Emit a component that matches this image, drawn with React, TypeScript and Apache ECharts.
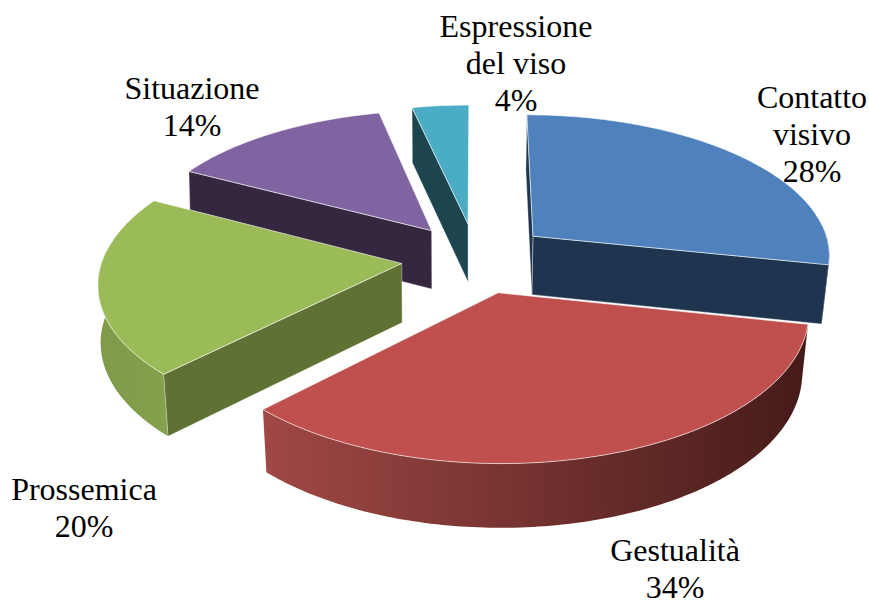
import React, { useEffect, useRef } from "react";
import * as echarts from "echarts";

const categories = ["Contatto visivo", "Gestualità", "Prossemica", "Situazione", "Espressione del viso"];
const values = [28.3, 34.1, 20.3, 13.8, 3.5];
const labelLines = ["Contatto\nvisivo", "Gestualità", "Prossemica", "Situazione", "Espressione\ndel viso"];

const W = 869, H = 601;
const CX = 476, CY = 258, RX = 299, RY = 141, K = 0.121, DEPTH = 59, EXPLODE = 0.25, BOTTOM_SHRINK = 0.98;
const STEP = Math.PI / 180;
const FRONT_FROM = (85 / 180) * Math.PI, FRONT_TO = (275 / 180) * Math.PI;

const topColors = ["#4f81bd", "#c0504d", "#9bbb59", "#8064a2", "#4bacc6"];
const wallColors = ["#1f344e", "#4b1d1b", "#5f7135", "#35273f", "#1d4550"];
const outerLeft = ["#1f344e", "#a04845", "#7f9a48", "#35273f", "#1d4550"];
const outerRight = ["#1f344e", "#451b19", "#86a14c", "#35273f", "#1d4550"];
const order = [1, 4, 2, 0, 0]; // stacking rank, back to front
const showStartWall = [true, false, true, true, true];
const showEndWall = [true, false, false, false, false];
const labelAnchors = [[812, 134], [675, 568], [84, 507], [192, 106], [516, 63]];
const RIM = "rgba(255,255,255,0.6)";

function project(X: number, Y: number, bottom: boolean): number[] {
  const s = 1 / (1 - K * Y);
  let x = CX + RX * X * s;
  let y = CY + RY * Y * s;
  if (bottom) {
    const shrink = x < CX ? 0.995 - 0.012 * Math.max(Y, 0) : BOTTOM_SHRINK;
    x = CX + (x - CX) * shrink;
    y += DEPTH * (0.5 + 0.5 * s);
  }
  return [x, y];
}

function renderSlice(params: any) {
  const i = params.dataIndex;
  const total = values.reduce((a, b) => a + b, 0);
  const before = values.slice(0, i).reduce((a, b) => a + b, 0);
  const a0 = (before / total) * Math.PI * 2;
  const a1 = ((before + values[i]) / total) * Math.PI * 2;
  const mid = (a0 + a1) / 2;
  const ox = Math.sin(mid) * EXPLODE;
  const oy = -Math.cos(mid) * EXPLODE;

  const arc = (from: number, to: number, bottom: boolean) => {
    const pts: number[][] = [];
    const n = Math.max(2, Math.ceil((to - from) / STEP));
    for (let j = 0; j <= n; j++) {
      const a = from + ((to - from) * j) / n;
      pts.push(project(ox + Math.sin(a), oy - Math.cos(a), bottom));
    }
    return pts;
  };
  const topArc = arc(a0, a1, false);
  const botArc = arc(a0, a1, true);
  const apexT = project(ox, oy, false);
  const apexB = project(ox, oy, true);
  const base = order[i] * 10 + (i === 4 ? 5 : 0);

  const wall = (a: number[], b: number[], c: number[], d: number[], z: number) => ({
    type: "polygon",
    z2: base + z,
    shape: { points: [a, b, c, d] },
    style: { fill: wallColors[i], stroke: RIM, lineWidth: 0.6 },
  });

  const children: any[] = [];
  if (showEndWall[i]) children.push(wall(apexT, topArc[topArc.length - 1], botArc[botArc.length - 1], apexB, 2));
  const from = Math.max(a0, FRONT_FROM);
  const to = Math.min(a1, FRONT_TO);
  if (to > from) {
    const ot = arc(from, to, false);
    const ob = arc(from, to, true);
    children.push({
      type: "polygon",
      z2: base + 1,
      shape: { points: ot.concat(ob.slice().reverse()) },
      style: {
        fill: new echarts.graphic.LinearGradient(0, 0, 1, 0, [
          { offset: 0, color: outerLeft[i] },
          { offset: 1, color: outerRight[i] },
        ]),
      },
    });
  }
  if (showStartWall[i]) children.push(wall(apexT, topArc[0], botArc[0], apexB, 2));
  children.push({
    type: "polygon",
    z2: base + 3,
    shape: { points: [apexT].concat(topArc) },
    style: { fill: topColors[i], stroke: RIM, lineWidth: 1 },
  });
  children.push({
    type: "text",
    z2: 100,
    style: {
      text: labelLines[i] + "\n" + Math.round(values[i]) + "%",
      x: labelAnchors[i][0],
      y: labelAnchors[i][1],
      align: "center",
      verticalAlign: "middle",
      fill: "#000000",
      font: '32px "Liberation Serif"',
      lineHeight: 37,
    },
  });
  return { type: "group", children };
}

export default function App() {
  const ref = useRef<HTMLDivElement>(null);
  useEffect(() => {
    const chart = echarts.init(ref.current!, null, { renderer: "svg" });
    chart.setOption({
      animation: false,
      backgroundColor: "#ffffff",
      series: [
        {
          type: "custom",
          coordinateSystem: "none",
          renderItem: renderSlice,
          data: categories.map((name, i) => ({ name, value: values[i] })),
          silent: true,
        },
      ],
    });
    return () => chart.dispose();
  }, []);
  return <div ref={ref} style={{ position: "absolute", left: 0, top: 0, width: W, height: H }} />;
}
